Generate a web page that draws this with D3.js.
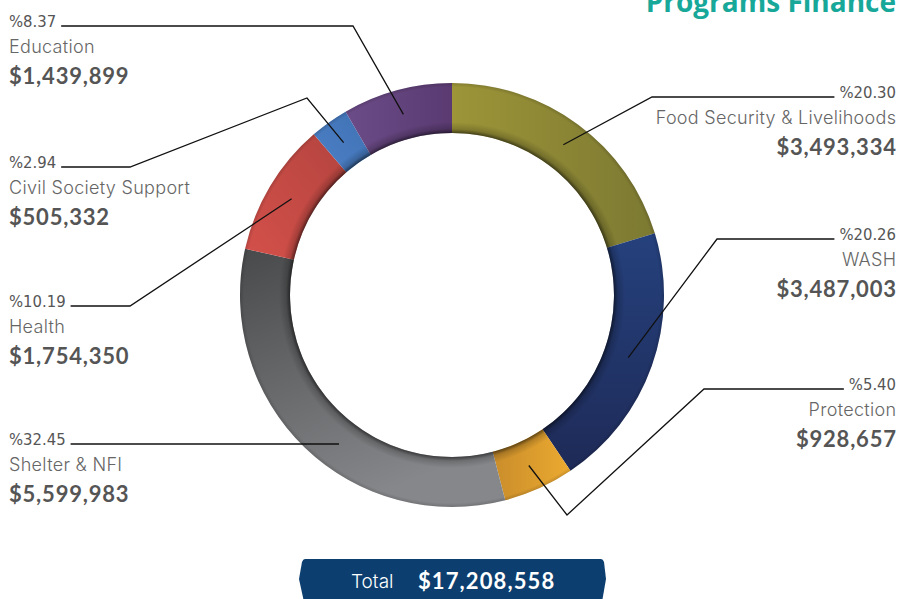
<!DOCTYPE html>
<html>
<head>
<meta charset="utf-8">
<title>Programs Finance</title>
<style>
  body { margin: 0; background: #fff; }
  svg { display: block; }
  .pct { font-family: "Liberation Sans Narrow", "DejaVu Sans Condensed", "Roboto", sans-serif; font-size: 16.5px; fill: #555; }
  .name { font-family: "Inter", "Lato", sans-serif; font-weight: 300; font-size: 18px; letter-spacing: 0.3px; fill: #666; }
  .amt { font-family: "Lato", "Open Sans", sans-serif; font-weight: 700; font-size: 22px; letter-spacing: 0.8px; fill: #555; }
</style>
<script src="https://d3js.org/d3.v7.min.js"></script>
</head>
<body>
<svg></svg>
<script>
// data
const categories = ["Food Security & Livelihoods", "WASH", "Protection", "Shelter & NFI", "Health", "Civil Society Support", "Education"];
const amounts = [3493334, 3487003, 928657, 5599983, 1754350, 505332, 1439899];
const percents = [20.30, 20.26, 5.40, 32.45, 10.19, 2.94, 8.37];
const totalAmount = 17208558;

// slice colours (light end, dark end) and gradient direction
const colorA = ["#9d9538", "#25417d", "#c98d2b", "#48494a", "#d4504a", "#4c80c5", "#6c4c88"];
const colorB = ["#7c7932", "#1e2a57", "#ecaa30", "#86878a", "#b4443f", "#3f71b4", "#5a3a71"];
const gradDir = [[0,0,1,0], [0,0,0,1], [0,0,1,0], [0,0,0.4,1], [0,1,1,0], [0,1,1,0], [0,0,1,0]];

// label layout: side, y of leader line, elbow points
const side = ["right", "right", "right", "left", "left", "left", "left"];
const lineY = [97, 239, 389, 444, 306, 167, 26];
const elbows = [[[652, 97]], [[717, 239]], [[704, 389], [567, 515]], [], [[130, 306]], [[130, 167], [307, 98]], [[353, 26]]];

const width = 899, height = 599;
const cx = 452, cy = 295;
const outerR = 212, innerR = 162, midR = 187;

const svg = d3.select("svg").attr("width", width).attr("height", height);
const defs = svg.append("defs");

const fmt = d3.format("$,");
const pie = d3.pie().sort(null).value(d => d);
const arcs = pie(amounts);
const arc = d3.arc().innerRadius(innerR).outerRadius(outerR);

arcs.forEach((a, i) => {
  const g = defs.append("linearGradient").attr("id", "g" + i)
    .attr("x1", gradDir[i][0]).attr("y1", gradDir[i][1])
    .attr("x2", gradDir[i][2]).attr("y2", gradDir[i][3]);
  g.append("stop").attr("offset", 0).attr("stop-color", colorA[i]);
  g.append("stop").attr("offset", 1).attr("stop-color", colorB[i]);
});

const shadow = defs.append("radialGradient").attr("id", "inshadow")
  .attr("gradientUnits", "userSpaceOnUse").attr("cx", 0).attr("cy", 0).attr("r", outerR);
shadow.append("stop").attr("offset", innerR / outerR).attr("stop-color", "#000").attr("stop-opacity", 0.55);
shadow.append("stop").attr("offset", (innerR + 4) / outerR).attr("stop-color", "#000").attr("stop-opacity", 0.18);
shadow.append("stop").attr("offset", (innerR + 11) / outerR).attr("stop-color", "#000").attr("stop-opacity", 0);

const outShadow = defs.append("radialGradient").attr("id", "outshadow")
  .attr("gradientUnits", "userSpaceOnUse").attr("cx", 0).attr("cy", 0).attr("r", outerR);
outShadow.append("stop").attr("offset", (outerR - 4) / outerR).attr("stop-color", "#000").attr("stop-opacity", 0);
outShadow.append("stop").attr("offset", 1).attr("stop-color", "#000").attr("stop-opacity", 0.15);

const ring = svg.append("g").attr("transform", `translate(${cx},${cy})`);
ring.selectAll("path.slice")
  .data(arcs)
  .join("path")
  .attr("class", "slice")
  .attr("d", arc)
  .attr("fill", (d, i) => `url(#g${i})`);

const fullRing = d3.arc().innerRadius(innerR).outerRadius(outerR).startAngle(0).endAngle(2 * Math.PI)();
ring.append("path").attr("d", fullRing).attr("fill", "url(#inshadow)");
ring.append("path").attr("d", fullRing).attr("fill", "url(#outshadow)");

// title
svg.append("text")
  .attr("x", 896).attr("y", 12)
  .attr("text-anchor", "end")
  .style("font-family", "'Open Sans', 'Lato', sans-serif")
  .style("font-weight", 700)
  .style("font-size", "28px")
  .style("fill", "#18a89a")
  .text("Programs Finance");

// labels and leaders
const labels = svg.append("g");
arcs.forEach((a, i) => {
  const right = side[i] === "right";
  const x = right ? 896 : 9;
  const anchor = right ? "end" : "start";
  const y = lineY[i];

  const pct = labels.append("text").attr("class", "pct")
    .attr("x", x).attr("y", y + 1).attr("text-anchor", anchor)
    .text("%" + percents[i].toFixed(2));
  labels.append("text").attr("class", "name")
    .attr("x", right ? x + 0.3 : x).attr("y", y + 27).attr("text-anchor", anchor)
    .text(categories[i]);
  labels.append("text").attr("class", "amt")
    .attr("x", right ? x + 0.8 : x).attr("y", y + 58).attr("text-anchor", anchor)
    .text(fmt(amounts[i]));

  const w = pct.node().getComputedTextLength();
  const startX = right ? x - w - 5 : x + w + 5;

  // end point on mid-radius inside the slice
  let end;
  if (elbows[i].length === 0) {
    const dy = y - cy;
    const dx = Math.sqrt(midR * midR - dy * dy);
    end = [cx - dx, y];
  } else {
    const m = (a.startAngle + a.endAngle) / 2;
    end = [cx + midR * Math.sin(m), cy - midR * Math.cos(m)];
  }
  const pts = [[startX, y]].concat(elbows[i]).concat([end]);
  labels.append("path")
    .attr("d", d3.line()(pts))
    .attr("fill", "none")
    .attr("stroke", "#111")
    .attr("stroke-width", 1.3);
});

// total badge
const badge = svg.append("g");
badge.append("path")
  .attr("d", "M305,559 L601,559 Q603,559 604,562 L606,579 L602,602 L304,602 L299,579 L302,562 Q303,559 305,559 Z")
  .attr("fill", "#0c3f70");
badge.append("text")
  .attr("x", 351).attr("y", 588)
  .style("font-family", "'Inter', 'Lato', sans-serif")
  .style("font-weight", 300)
  .style("font-size", "19px")
  .style("fill", "#fff")
  .text("Total");
badge.append("text")
  .attr("x", 418).attr("y", 589)
  .style("font-family", "'Lato', 'Open Sans', sans-serif")
  .style("font-weight", 700)
  .style("font-size", "22px")
  .style("letter-spacing", "1.1px")
  .style("fill", "#fff")
  .text(fmt(totalAmount));
</script>
</body>
</html>
